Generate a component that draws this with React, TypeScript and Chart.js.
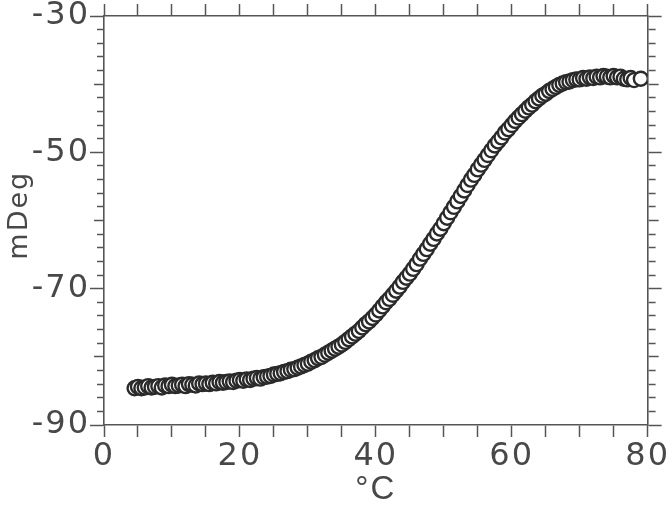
import React, { useEffect, useRef } from "react";
import { Chart, registerables } from "chart.js";

Chart.register(...registerables);

// Temperature (°C)
const temps: number[] = [
  4.5, 5, 5.5, 6, 6.5, 7, 7.5, 8, 8.5, 9,
  9.5, 10, 10.5, 11, 11.5, 12, 12.5, 13, 13.5, 14,
  14.5, 15, 15.5, 16, 16.5, 17, 17.5, 18, 18.5, 19,
  19.5, 20, 20.5, 21, 21.5, 22, 22.5, 23, 23.5, 24,
  24.5, 25, 25.5, 26, 26.5, 27, 27.5, 28, 28.5, 29,
  29.5, 30, 30.5, 31, 31.5, 32, 32.5, 33, 33.5, 34,
  34.5, 35, 35.5, 36, 36.5, 37, 37.5, 38, 38.5, 39,
  39.5, 40, 40.5, 41, 41.5, 42, 42.5, 43, 43.5, 44,
  44.5, 45, 45.5, 46, 46.5, 47, 47.5, 48, 48.5, 49,
  49.5, 50, 50.5, 51, 51.5, 52, 52.5, 53, 53.5, 54,
  54.5, 55, 55.5, 56, 56.5, 57, 57.5, 58, 58.5, 59,
  59.5, 60, 60.5, 61, 61.5, 62, 62.5, 63, 63.5, 64,
  64.5, 65, 65.5, 66, 66.5, 67, 67.5, 68, 68.5, 69,
  69.5, 70, 70.5, 71, 71.5, 72, 72.5, 73, 73.5, 74,
  74.5, 75, 75.5, 76, 76.5, 77, 77.5, 78,
  79,
];

// CD signal (mDeg)
const mdeg: number[] = [
  -84.6, -84.4, -84.6, -84.5, -84.3, -84.5, -84.4, -84.3, -84.5, -84.2,
  -84.3, -84.1, -84.3, -84.2, -84.1, -84.3, -84.0, -84.1, -84.2, -83.9,
  -84.0, -83.9, -84.0, -83.8, -83.9, -83.7, -83.8, -83.7, -83.6, -83.7,
  -83.5, -83.4, -83.5, -83.3, -83.4, -83.2, -83.1, -83.2, -83.0, -82.9,
  -82.8, -82.6, -82.5, -82.4, -82.2, -82.1, -81.9, -81.8, -81.6, -81.4,
  -81.2, -81.0, -80.7, -80.5, -80.2, -80.0, -79.7, -79.4, -79.1, -78.8,
  -78.5, -78.2, -77.8, -77.4, -77.0, -76.6, -76.2, -75.7, -75.2, -74.8,
  -74.3, -73.8, -73.2, -72.6, -72.0, -71.5, -70.9, -70.3, -69.7, -69.0,
  -68.4, -67.8, -67.1, -66.4, -65.6, -64.9, -64.2, -63.4, -62.7, -61.9,
  -61.2, -60.4, -59.6, -58.8, -58.0, -57.2, -56.4, -55.6, -54.8, -54.0,
  -53.3, -52.5, -51.8, -51.1, -50.4, -49.7, -49.0, -48.4, -47.8, -47.1,
  -46.6, -46.0, -45.4, -44.9, -44.4, -43.9, -43.4, -43.0, -42.5, -42.1,
  -41.7, -41.4, -41.0, -40.7, -40.4, -40.1, -39.9, -39.7, -39.6, -39.4,
  -39.3, -39.3, -39.1, -39.2, -39.0, -39.1, -38.9, -39.0, -38.8, -38.9,
  -39.0, -38.8, -39.0, -38.9, -39.2, -39.3, -39.1, -39.4,
  -39.2,
];

const xLabelValues: number[] = [0, 20, 40, 60, 80];
const yLabelValues: number[] = [-30, -50, -70, -90];
const yMidValues: number[] = [-40, -60, -80];

const AXIS = "#555555";
const TEXT = "#484848";
const FONT = "'DejaVu Sans', sans-serif";
const TITLE_FONT = "'Liberation Sans', Arial, sans-serif";

export default function App() {
  const ref = useRef<HTMLCanvasElement | null>(null);

  useEffect(() => {
    if (!ref.current) return;
    const spacing = {
      id: "spacing",
      beforeDraw(chart: any) {
        chart.ctx.letterSpacing = "2px";
      },
    };
    const yLenLeft = (v: number) => {
      const r = Math.round(v);
      if (yLabelValues.includes(r)) return [];
      if (yMidValues.includes(r)) return [0, 4, 10, 100];
      return [0, 7, 7, 100];
    };
    const yLenRight = (v: number) => {
      const r = Math.round(v);
      if (yLabelValues.includes(r)) return [];
      if (yMidValues.includes(r)) return [10, 100];
      return [7, 100];
    };
    const chart = new Chart(ref.current, {
      type: "scatter",
      data: {
        datasets: [
          {
            data: temps.map((t, i) => ({ x: t, y: mdeg[i] })),
            pointRadius: 7,
            pointBorderWidth: 2.4,
            borderColor: "#2a2a2a",
            backgroundColor: "#ffffff",
            pointBackgroundColor: "#ffffff",
            pointBorderColor: "#2a2a2a",
            showLine: false,
          },
        ],
      },
      plugins: [spacing],
      options: {
        animation: false,
        responsive: true,
        maintainAspectRatio: false,
        layout: { padding: 0 },
        plugins: {
          legend: { display: false },
          tooltip: { enabled: false },
        },
        scales: {
          x: {
            type: "linear",
            position: "bottom",
            min: 0,
            max: 80,
            afterFit: (s: any) => {
              s.height = 81;
            },
            ticks: {
              stepSize: 5,
              autoSkip: false,
              maxRotation: 0,
              padding: 4,
              color: TEXT,
              font: { family: FONT, size: 32, lineHeight: 1 },
              callback: (v: any) =>
                xLabelValues.includes(Math.round(Number(v))) ? String(v) : "",
            },
            grid: {
              drawOnChartArea: false,
              tickLength: 12,
              tickColor: AXIS,
              tickWidth: 1.5,
            },
            border: { color: AXIS, width: 1.6 },
            title: {
              display: true,
              text: "°C",
              color: TEXT,
              font: { family: TITLE_FONT, size: 33, lineHeight: 1 },
              padding: { top: 0, bottom: 0 },
            },
          },
          xTop: {
            type: "linear",
            position: "top",
            axis: "x",
            min: 0,
            max: 80,
            afterFit: (s: any) => {
              s.height = 14;
            },
            ticks: { stepSize: 5, autoSkip: false, display: false },
            grid: {
              drawOnChartArea: false,
              tickLength: 12,
              tickColor: AXIS,
              tickWidth: 1.5,
            },
            border: { color: AXIS, width: 1.6 },
          },
          y: {
            type: "linear",
            position: "left",
            min: -90,
            max: -30,
            afterFit: (s: any) => {
              s.width = 104;
            },
            ticks: {
              stepSize: 2,
              autoSkip: false,
              padding: 0,
              color: TEXT,
              font: { family: FONT, size: 32, lineHeight: 1 },
              callback: (v: any) =>
                yLabelValues.includes(Math.round(Number(v))) ? String(v) : "",
            },
            grid: {
              drawOnChartArea: false,
              tickLength: 14,
              tickColor: AXIS,
              tickWidth: 1.5,
              tickBorderDash: (ctx: any) => yLenLeft(ctx.tick ? ctx.tick.value : 0),
            },
            border: { color: AXIS, width: 1.6 },
            title: {
              display: true,
              text: " mDeg",
              color: TEXT,
              font: { family: FONT, size: 27, lineHeight: 1 },
              padding: { top: 6, bottom: 0 },
            },
          },
          yRight: {
            type: "linear",
            position: "right",
            axis: "y",
            min: -90,
            max: -30,
            afterFit: (s: any) => {
              s.width = 20;
            },
            ticks: { stepSize: 2, autoSkip: false, display: false },
            grid: {
              drawOnChartArea: false,
              tickLength: 14,
              tickColor: AXIS,
              tickWidth: 1.5,
              tickBorderDash: (ctx: any) => yLenRight(ctx.tick ? ctx.tick.value : 0),
            },
            border: { color: AXIS, width: 1.6 },
          },
        },
      },
    } as any);
    return () => chart.destroy();
  }, []);

  return (
    <div
      style={{
        position: "absolute",
        left: 0,
        top: 0,
        width: 672,
        height: 506,
        background: "#ffffff",
      }}
    >
      <canvas ref={ref} />
    </div>
  );
}
